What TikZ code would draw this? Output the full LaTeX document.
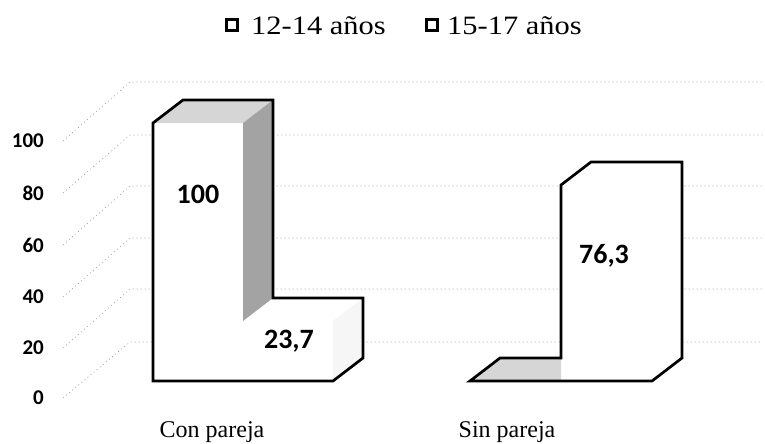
\documentclass[tikz,border=0pt]{standalone}
\usepackage{fontspec}
\setmainfont{Liberation Serif}
\newfontfamily\calfont{Carlito}
\begin{document}
\begin{tikzpicture}[x=1pt,y=-1pt,
  grid/.style={gray!75, line width=0.6pt, dash pattern=on 1pt off 3pt},
  outline/.style={line width=2.7pt, line join=miter},
  lightface/.style={fill=gray!32},
  darkface/.style={fill=gray!72},
  axislbl/.style={anchor=east, inner sep=0pt, font=\calfont\bfseries\fontsize{21}{25}\selectfont},
  datalbl/.style={anchor=base, inner sep=0pt, font=\calfont\bfseries\fontsize{28}{33}\selectfont},
  catlbl/.style={anchor=base, inner sep=0pt, font=\fontsize{24}{28}\selectfont},
  leglbl/.style={anchor=base west, inner sep=0pt, xscale=1.15, font=\fontsize{26.5}{30}\selectfont},
  legmark/.style={draw, line width=2.4pt, minimum size=11pt, inner sep=0pt}
]
\useasboundingbox (0,0) rectangle (765,444);
\fill[white] (0,0) rectangle (765,444);

% gridlines: side wall and back wall
\foreach \fy/\by/\lab in {398/342/0, 348/289/20, 297/238/40, 245/186/60, 193/135/80, 141/82/100}{
  \coordinate (sf\lab) at (63,\fy);
  \coordinate (sb\lab) at (130,\by);
  \coordinate (se\lab) at (762,\by);
  \draw[grid] (sf\lab) -- (sb\lab) -- (se\lab);
  \node[axislbl] (ax\lab) at (44,\fy) {\lab};
}

% left group: Con pareja
\fill[white] (153,381) -- (153,123) -- (183,100) -- (273,100) -- (273,298) -- (363,298) -- (363,358) -- (333,381) -- cycle;
\fill[lightface] (153,123) -- (183,100) -- (273,100) -- (243,123) -- cycle;
\fill[darkface] (243,123) -- (273,100) -- (273,298) -- (243,321) -- cycle;
\fill[gray!7] (333,321) -- (363,298) -- (363,358) -- (333,381) -- cycle;
\draw[outline] (153,381) -- (153,123) -- (183,100) -- (273,100) -- (273,298) -- (363,298) -- (363,358) -- (333,381) -- cycle;

% right group: Sin pareja
\fill[white] (470,381) -- (500,358) -- (561,358) -- (561,185) -- (591,162) -- (682,162) -- (682,358) -- (652,381) -- cycle;
\fill[lightface] (470,381) -- (500,358) -- (561,358) -- (561,381) -- cycle;
\draw[outline] (470,381) -- (500,358) -- (561,358) -- (561,185) -- (591,162) -- (682,162) -- (682,358) -- (652,381) -- cycle;

% data labels
\node[datalbl] (v100) at (198,203) {100};
\node[datalbl] (v237) at (289,348) {23,7};
\node[datalbl] (v763) at (604,263) {76,3};

% category labels
\node[catlbl] (c1) at (212,437) {Con pareja};
\node[catlbl] (c2) at (507,437) {Sin pareja};

% legend
\node[legmark] (m1) at (232,25) {};
\node[leglbl] (l1) at (251,35) {12-14 años};
\node[legmark] (m2) at (432,25) {};
\node[leglbl] (l2) at (447,35) {15-17 años};
\end{tikzpicture}
\end{document}
